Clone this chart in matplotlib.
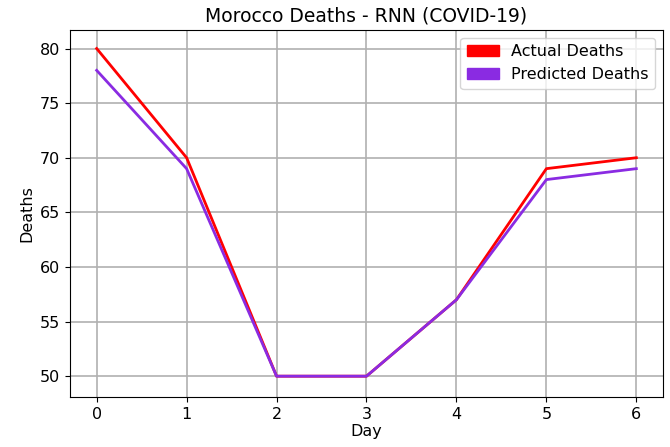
import numpy as np
import matplotlib
matplotlib.use('Agg')
import matplotlib.pyplot as plt
import matplotlib.patches as mpatches

#data
days = [0, 1, 2, 3, 4, 5, 6]
actual = [80, 70, 50, 50, 57, 69, 70]
predicted = [78, 69, 50, 50, 57, 68, 69]

fig = plt.figure(figsize=(6.7, 4.47), dpi=100)
ax = fig.add_axes([0.104, 0.112, 0.886, 0.821])

ax.plot(days, actual, color='red', linewidth=2)
ax.plot(days, predicted, color='blueviolet', linewidth=2)

ax.grid(True, color='#b0b0b0', linewidth=1.2)
ax.set_axisbelow(True)
ax.set_ylim(48.1, 81.7)
ax.set_title('Morocco Deaths - RNN (COVID-19)', fontsize=13.5)
ax.set_xlabel('Day', fontsize=11.5, labelpad=2)
ax.set_ylabel('Deaths', fontsize=11.5)
ax.tick_params(labelsize=11.5)

handles = [mpatches.Patch(color='red', label='Actual Deaths'),
           mpatches.Patch(color='blueviolet', label='Predicted Deaths')]
ax.legend(handles=handles, loc='upper right', fontsize=11.5)

plt.savefig('out.png', dpi=100)
plt.close()
